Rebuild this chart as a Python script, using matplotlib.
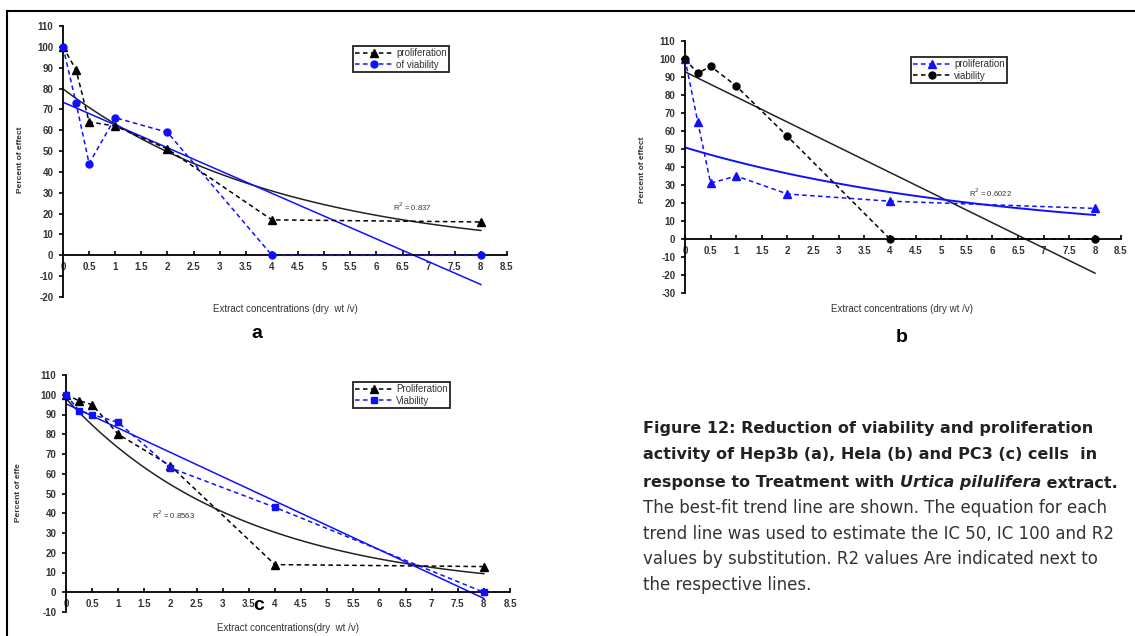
import numpy as np
import matplotlib
matplotlib.use("Agg")
import matplotlib.pyplot as plt
from matplotlib.lines import Line2D

plt.rcParams['font.family'] = ['Liberation Sans', 'DejaVu Sans']
plt.rcParams['axes.unicode_minus'] = False

W, H = 1135, 636

# concentrations (dry wt / v), same for every panel
conc = [0, 0.25, 0.5, 1, 2, 4, 8]

# a: Hep3b
a_prolif = [100, 89, 64, 62, 51, 17, 16]
a_viab = [100, 73, 44, 66, 59, 0, 0]
# b: Hela
b_prolif = [100, 65, 31, 35, 25, 21, 17]
b_viab = [100, 92, 96, 85, 57, 0, 0]
# c: PC3
c_prolif = [100, 97, 95, 80, 64, 14, 13]
c_viab = [100, 92, 90, 86, 63, 43, 0]

r2_labels = ["R$^2$ = 0.837", "R$^2$ = 0.6022", "R$^2$ = 0.8563"]

BLUE = "#1010ff"
DASH = (0, (3, 2.2))


def fx(px):
    return px / W


def fy(py):
    return 1 - py / H


def exp_fit(x, y):
    k, b = np.polyfit(x, np.log(y), 1)
    xs = np.linspace(0, 8, 100)
    return xs, np.exp(b) * np.exp(k * xs)


def lin_fit(x, y):
    m, b = np.polyfit(x, y, 1)
    xs = np.array([0, 8])
    return xs, m * xs + b


def make_axes(fig, x0, x1, ytop, ybot, ymin, ymax):
    ax = fig.add_axes([fx(x0), fy(ybot), fx(x1 - x0), (ybot - ytop) / H])
    ax.set_xlim(0, 8.5)
    ax.set_ylim(ymin, ymax)
    ax.patch.set_alpha(0)
    for s in ['top', 'right']:
        ax.spines[s].set_visible(False)
    ax.spines['bottom'].set_position(('data', 0))
    ax.spines['left'].set_position(('data', 0))
    ax.spines['bottom'].set_linewidth(1.3)
    ax.spines['left'].set_linewidth(1.3)
    ax.set_xticks(np.arange(0, 8.51, 0.5))
    ax.set_xticklabels([f"{v:g}" for v in np.arange(0, 8.51, 0.5)])
    ax.set_yticks(np.arange(ymin, ymax + 1, 10))
    ax.tick_params(axis='x', direction='in', length=3, width=1.2, labelsize=7,
                   pad=5, labelcolor='#333333')
    ax.tick_params(axis='y', direction='out', length=3, width=1.2, labelsize=7,
                   pad=4, labelcolor='#333333')
    for lab in ax.get_xticklabels() + ax.get_yticklabels():
        lab.set_fontweight('bold')
    return ax


def series(ax, y, color, marker, ms, label):
    ax.plot(conc, y, color=color, linestyle=DASH, linewidth=1.1, marker=marker,
            markersize=ms, clip_on=False, label=label, zorder=3)


def legend(ax, handles, px, py):
    leg = ax.legend(handles=handles, loc='upper left',
                    bbox_to_anchor=(fx(px), fy(py)), bbox_transform=ax.figure.transFigure,
                    borderaxespad=0, fancybox=False, framealpha=1, edgecolor='#222222',
                    fontsize=7, handlelength=3.8, handletextpad=0.4, borderpad=0.25,
                    labelspacing=0.15)
    leg.get_frame().set_linewidth(1.3)
    for t in leg.get_texts():
        t.set_color('#333333')


fig = plt.figure(figsize=(W / 100, H / 100), dpi=100)

# outer frame (top and left edges visible)
fig.add_artist(Line2D([fx(7), fx(1135)], [fy(11), fy(11)], color='black', lw=1.5))
fig.add_artist(Line2D([fx(7), fx(7)], [fy(11), fy(636)], color='black', lw=1.5))

# ---- panel a ----
ax = make_axes(fig, 63, 507, 26, 297, -20, 110)
xs, ys = exp_fit(conc, a_prolif)
ax.plot(xs, ys, color='#222222', lw=1.1, zorder=2)
xs, ys = lin_fit(conc, a_viab)
ax.plot(xs, ys, color=BLUE, lw=1.1, zorder=2)
series(ax, a_prolif, 'black', '^', 5.5, 'proliferation')
series(ax, a_viab, BLUE, 'o', 5, 'of viability')
ax.text(6.32, 23.5, r2_labels[0], fontsize=5.5, color='#333333', ha='left', va='center')
h = [Line2D([], [], color='black', ls=DASH, lw=1.1, marker='^', ms=5.5, label='proliferation'),
     Line2D([], [], color=BLUE, ls=DASH, lw=1.1, marker='o', ms=5, label='of viability')]
legend(ax, h, 353, 46)
fig.text(fx(285), fy(309), "Extract concentrations (dry  wt /v)", fontsize=7,
         color='#333333', ha='center', va='center')
fig.text(fx(257), fy(333), "a", fontsize=14, fontweight='bold', ha='center', va='center')
fig.text(fx(20), fy(160), "Percent of effect", fontsize=6, rotation=90,
         fontweight='bold', color='#333333', ha='center', va='center')

# ---- panel b ----
ax = make_axes(fig, 685, 1120.6, 41, 293, -30, 110)
xs, ys = lin_fit(conc, b_viab)
ax.plot(xs, ys, color='#222222', lw=1.1, zorder=2)
xs, ys = exp_fit(conc, b_prolif)
ax.plot(xs, ys, color=BLUE, lw=1.4, zorder=2)
series(ax, b_prolif, BLUE, '^', 5.5, 'proliferation')
series(ax, b_viab, 'black', 'o', 5, 'viability')
ax.text(5.55, 25.5, r2_labels[1], fontsize=5.5, color='#333333', ha='left', va='center')
h = [Line2D([], [], color=BLUE, ls=DASH, lw=1.1, marker='^', ms=5.5, label='proliferation'),
     Line2D([], [], color='black', ls=DASH, lw=1.1, marker='o', ms=5, label='viability')]
legend(ax, h, 911, 57)
fig.text(fx(902), fy(309), "Extract concentrations (dry wt /v)", fontsize=7,
         color='#333333', ha='center', va='center')
fig.text(fx(902), fy(338), "b", fontsize=14, fontweight='bold', ha='center', va='center')
fig.text(fx(642), fy(170), "Percent of effect", fontsize=6, rotation=90,
         fontweight='bold', color='#333333', ha='center', va='center')

# ---- panel c ----
ax = make_axes(fig, 66, 510, 375, 612, -10, 110)
xs, ys = exp_fit(conc, c_prolif)
ax.plot(xs, ys, color='#222222', lw=1.1, zorder=2)
xs, ys = lin_fit(conc, c_viab)
ax.plot(xs, ys, color=BLUE, lw=1.1, zorder=2)
series(ax, c_prolif, 'black', '^', 5.5, 'Proliferation')
series(ax, c_viab, BLUE, 's', 5, 'Viability')
ax.text(1.65, 39, r2_labels[2], fontsize=5.5, color='#333333', ha='left', va='center')
h = [Line2D([], [], color='black', ls=DASH, lw=1.1, marker='^', ms=5.5, label='Proliferation'),
     Line2D([], [], color=BLUE, ls=DASH, lw=1.1, marker='s', ms=5, label='Viability')]
legend(ax, h, 353, 382)
fig.text(fx(288), fy(628), "Extract concentrations(dry  wt /v)", fontsize=7,
         color='#333333', ha='center', va='center')
fig.text(fx(259), fy(606), "c", fontsize=14, fontweight='bold', ha='center', va='center')
fig.text(fx(18), fy(493), "Percent of effe", fontsize=6, rotation=90,
         fontweight='bold', color='#333333', ha='center', va='center')

# ---- caption ----
cap_x = fx(643)
bold_kw = dict(fontsize=11.5, fontweight='bold', color='#222222', va='center', ha='left',
               family=['DejaVu Sans'])
fig.text(cap_x, fy(428), "Figure 12: Reduction of viability and proliferation", **bold_kw)
fig.text(cap_x, fy(455), "activity of Hep3b (a), Hela (b) and PC3 (c) cells  in", **bold_kw)
t1 = fig.text(cap_x, fy(483), "response to Treatment with ", **bold_kw)
t2 = plt.annotate("Urtica pilulifera", xy=(1, 0), xycoords=t1, va='bottom', ha='left',
                  fontsize=11.5, fontweight='bold', fontstyle='italic', color='#222222',
                  family=['DejaVu Sans'])
plt.annotate(" extract.", xy=(1, 0), xycoords=t2, va='bottom', ha='left',
             fontsize=11.5, fontweight='bold', color='#222222', family=['DejaVu Sans'])
reg_kw = dict(fontsize=12, color='#333333', va='center', ha='left', family=['DejaVu Sans'])
fig.text(cap_x, fy(508), "The best-fit trend line are shown. The equation for each", **reg_kw)
fig.text(cap_x, fy(534), "trend line was used to estimate the IC 50, IC 100 and R2", **reg_kw)
fig.text(cap_x, fy(559), "values by substitution. R2 values Are indicated next to", **reg_kw)
fig.text(cap_x, fy(585), "the respective lines.", **reg_kw)

fig.savefig("out.png", dpi=100)
